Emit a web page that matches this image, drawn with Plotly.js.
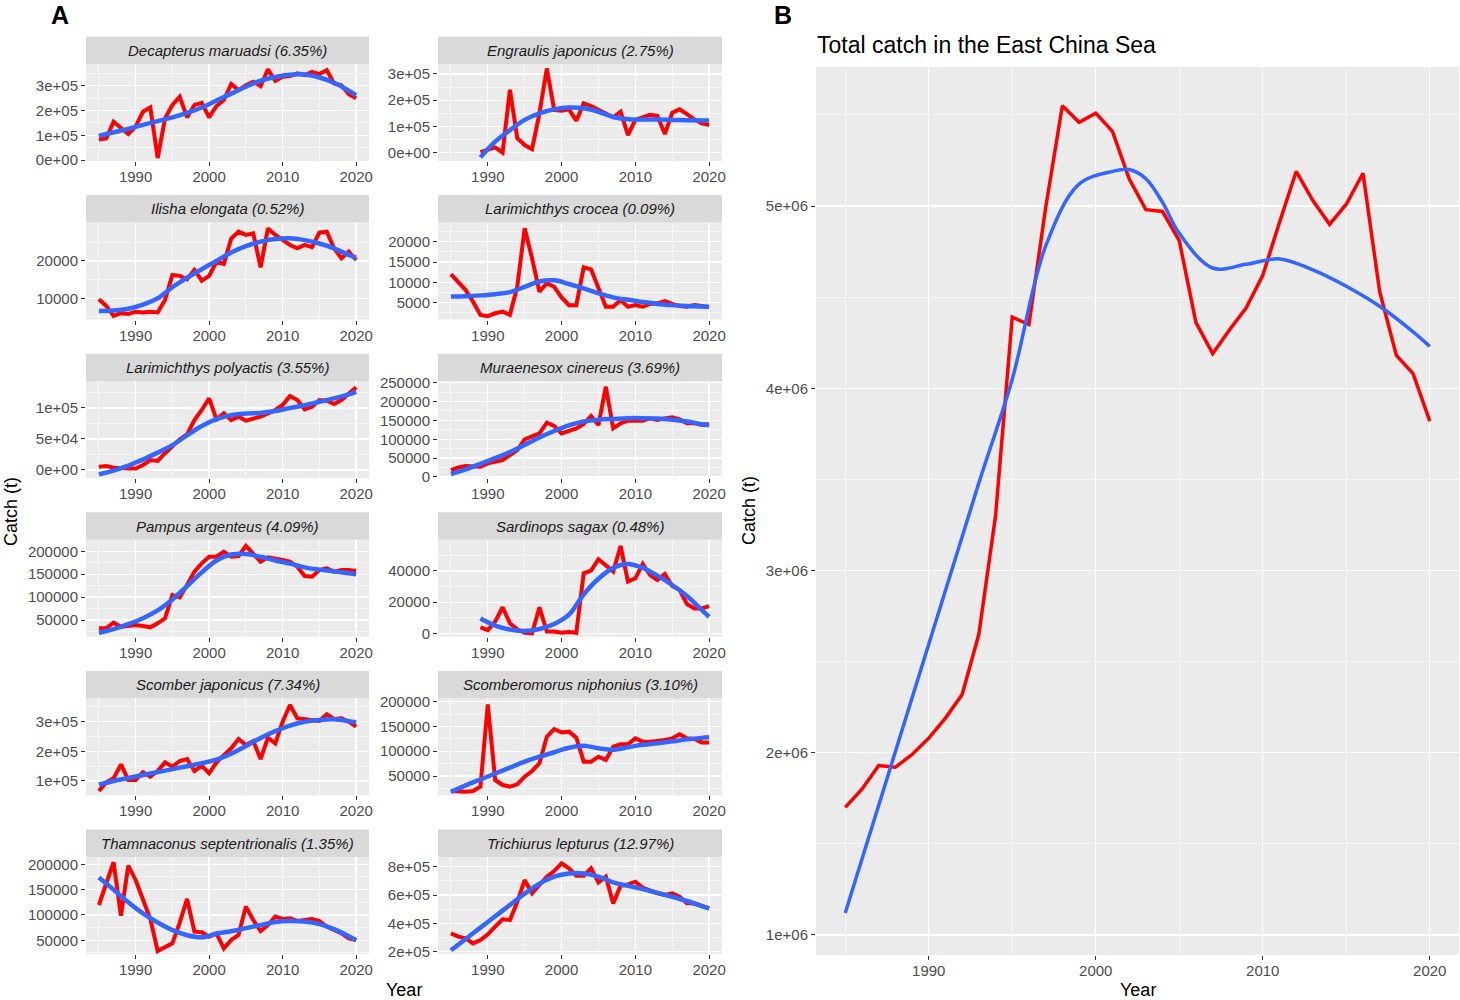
<!DOCTYPE html>
<html><head><meta charset="utf-8">
<script src="https://cdn.plot.ly/plotly-3.0.1.min.js"></script>
<style>body{margin:0;background:#fff}#chart{width:1460px;height:1000px}</style>
</head><body><div id="chart"></div>
<script>
// ---------------- DATA ----------------
const years = [1985,1986,1987,1988,1989,1990,1991,1992,1993,1994,1995,1996,1997,1998,1999,2000,2001,2002,2003,2004,2005,2006,2007,2008,2009,2010,2011,2012,2013,2014,2015,2016,2017,2018,2019,2020];
const years89 = [1989,1990,1991,1992,1993,1994,1995,1996,1997,1998,1999,2000,2001,2002,2003,2004,2005,2006,2007,2008,2009,2010,2011,2012,2013,2014,2015,2016,2017,2018,2019,2020];
const fitYears = [1985,1987,1989,1991,1993,1995,1997,1999,2001,2003,2005,2007,2009,2011,2013,2015,2017,2019,2020];
const fitYears89 = [1989,1991,1993,1995,1997,1999,2001,2003,2005,2007,2009,2011,2013,2015,2017,2019,2020];
const totalFitYears = [1985,1987,1989,1991,1993,1995,1997,1999,2001,2002,2003,2004,2005,2007,2009,2011,2013,2015,2017,2019,2020];

const species = ["Decapterus maruadsi (6.35%)","Engraulis japonicus (2.75%)","Ilisha elongata (0.52%)","Larimichthys crocea (0.09%)","Larimichthys polyactis (3.55%)","Muraenesox cinereus (3.69%)","Pampus argenteus (4.09%)","Sardinops sagax (0.48%)","Scomber japonicus (7.34%)","Scomberomorus niphonius (3.10%)","Thamnaconus septentrionalis (1.35%)","Trichiurus lepturus (12.97%)"];

const decapterusCatch = [83000,87000,155000,128000,105000,135000,195000,212000,8000,168000,222000,255000,172000,222000,231000,172000,218000,242000,307000,282000,302000,316000,298000,366000,320000,336000,339000,350000,343000,356000,347000,363000,309000,302000,266000,249000];
const decapterusFit = [97000,112000,126000,142000,157000,172000,190000,212000,240000,268000,296000,320000,335000,344000,345000,333000,312000,280000,262000];

const engraulisCatch = [2000,10000,20000,0,240000,55000,29000,13000,150000,321000,163000,160000,165000,122000,188000,178000,163000,152000,135000,156000,67000,125000,135000,144000,140000,71000,152000,165000,147000,127000,112000,105000];
const engraulisFit = [-18000,42000,86000,125000,150000,165000,172000,169000,156000,136000,127000,126000,126000,125000,124000,123000,123000];

const ilishaCatch = [9700,7950,5270,6000,5800,6400,6200,6400,6200,9550,16250,16000,15100,17600,14700,16000,19800,19200,26000,27850,27000,27400,18300,28750,27000,25600,24300,23400,24300,23700,27600,27850,23400,20700,22500,20250];
const ilishaFit = [6600,6700,7200,8300,10000,13000,15500,17800,20000,22300,24000,25200,25900,26100,25600,24700,23400,21600,20900];

const croceaCatch = [12000,10200,8100,5250,2000,1700,2400,2800,2000,9000,23300,15900,7700,9800,8900,6300,4400,4400,13700,13200,8500,4000,4000,5650,4000,4400,4000,4700,4850,5400,4700,4200,4000,4400,4200,3850];
const croceaFit = [6500,6600,6800,7100,7600,8900,10200,10500,9600,8500,7300,6300,5700,5200,4700,4400,4200,4050,4000];

const polyactisCatch = [5400,6500,3800,2700,2200,2200,8000,16000,14500,27000,37600,49500,57500,80600,96800,115600,81700,91400,80600,86000,79600,83300,86000,91400,96800,104800,119300,112900,97800,102100,112900,111800,106400,112900,123600,133300];
const polyactisFit = [-7000,-1000,7000,17000,28000,40000,56000,71000,82000,88500,91000,92000,95000,100000,104500,110000,115500,122000,126000];

const muraenesoxCatch = [18500,25600,29100,29100,27400,36200,40600,45000,58300,71500,99800,108600,115700,144000,135100,115700,122700,128900,140400,161600,137700,239300,128900,142200,149200,149200,149200,155400,151000,155400,158100,152800,142200,142200,137700,140400];
const muraenesoxFit = [8000,20000,35000,50000,66000,85000,105000,122000,137000,147000,152000,154000,156000,156000,155000,152000,147000,140000,137000];

const pampusCatch = [31800,31800,44200,35400,36900,39100,36900,34000,42700,53600,104600,99500,126400,155600,173800,188300,188300,199200,188300,189800,211600,195600,177400,186900,184700,181000,177400,166500,146100,144600,159200,162800,155600,159200,159200,157000];
const pampusFit = [22000,30000,41000,54000,71000,95000,124000,154000,180000,193000,194000,188000,180000,173000,165000,160000,156000,152000,150000];

const sardinopsCatch = [3850,2100,7500,16700,6400,2600,400,0,16700,1100,1100,400,900,400,38500,40200,47500,43900,39600,56000,33200,35300,44500,37400,34200,38100,30400,27800,18800,16000,16000,17500];
const sardinopsFit = [9500,5000,2500,1500,2800,6000,12000,25000,35000,42000,44500,42000,37000,31000,24000,15000,10500];

const scomberCatch = [66300,95500,109000,156200,103400,103400,129200,114600,133700,162900,148300,167400,174200,133700,151700,125900,162900,187700,210200,241600,221400,234900,174200,246100,227000,300000,356300,311300,309100,305700,302300,324800,309100,311300,300000,283200];
const scomberFit = [88000,100000,110000,120000,130000,140000,150000,160000,172000,192000,218000,245000,268000,287000,300000,306000,308000,302000,298000];

const scomberomorusCatch = [19700,18400,18400,19700,28500,194600,41900,31800,28500,33200,48700,60100,75600,129400,144800,138100,139500,127300,78900,78900,89000,82300,109200,113900,113900,126000,119300,119300,120600,122600,126000,134100,126000,124700,117900,117900];
const scomberomorusFit = [18000,31000,43000,55000,67000,79000,89000,98000,107000,111000,106000,103000,108000,113000,116000,120000,124000,127000,128000];

const thamnaconusCatch = [119700,162500,204000,98700,197400,169100,131600,92100,28900,37500,44100,85000,131600,67100,65800,57200,63800,34200,50700,60500,116500,90100,68400,80300,96700,92100,93400,88200,90100,92100,88200,77000,70400,63800,54000,50700];
const thamnaconusFit = [174000,150000,125000,103000,85000,70000,60000,56000,63000,68000,74000,80000,86000,88000,87000,82000,72000,58000,50000];

const trichiurusCatch = [329400,305900,294100,258800,282400,322400,376500,428200,423500,552900,705900,611800,670600,729400,769400,823500,788200,736500,736500,788200,689400,729400,541200,665900,675300,694100,651800,628200,611800,600000,611800,588200,541200,541200,524700,505900];
const trichiurusFit = [210000,290000,370000,450000,530000,610000,680000,730000,752000,752000,730000,690000,665000,642000,615000,588000,558000,522000,505000];

const totalCatch = [1700000,1800000,1930000,1920000,1990000,2080000,2190000,2320000,2650000,3300000,4390000,4350000,4990000,5550000,5460000,5510000,5410000,5150000,4980000,4970000,4810000,4360000,4190000,4320000,4440000,4620000,4910000,5190000,5030000,4900000,5010000,5180000,4530000,4180000,4080000,3820000];
const totalFit = [1120000,1710000,2300000,2890000,3480000,4050000,4780000,5120000,5190000,5200000,5150000,5020000,4850000,4660000,4680000,4710000,4650000,4560000,4450000,4310000,4230000];

const xTicks = [1990,2000,2010,2020];
const xTickLabels = ["1990","2000","2010","2020"];
const sciTicks1 = [0,100000,200000,300000]; const sciLabels1 = ["0e+00","1e+05","2e+05","3e+05"];
const ilishaTicks = [10000,20000]; const ilishaLabels = ["10000","20000"];
const croceaTicks = [5000,10000,15000,20000]; const croceaLabels = ["5000","10000","15000","20000"];
const polyTicks = [0,50000,100000]; const polyLabels = ["0e+00","5e+04","1e+05"];
const muraTicks = [0,50000,100000,150000,200000,250000]; const muraLabels = ["0","50000","100000","150000","200000","250000"];
const t50Ticks = [50000,100000,150000,200000]; const t50Labels = ["50000","100000","150000","200000"];
const sardTicks = [0,20000,40000]; const sardLabels = ["0","20000","40000"];
const scomTicks = [100000,200000,300000]; const scomLabels = ["1e+05","2e+05","3e+05"];
const trichTicks = [200000,400000,600000,800000]; const trichLabels = ["2e+05","4e+05","6e+05","8e+05"];
const totalTicks = [1000000,2000000,3000000,4000000,5000000]; const totalLabels = ["1e+06","2e+06","3e+06","4e+06","5e+06"];

// ---------------- PANELS ----------------
const panels = [
  {x:years, y:decapterusCatch, fx:fitYears, fy:decapterusFit, tv:sciTicks1, tt:sciLabels1, r:[-3860,387600]},
  {x:years89, y:engraulisCatch, fx:fitYears89, fy:engraulisFit, tv:sciTicks1, tt:sciLabels1, r:[-31750,338000]},
  {x:years, y:ilishaCatch, fx:fitYears, fy:ilishaFit, tv:ilishaTicks, tt:ilishaLabels, r:[4270,30300]},
  {x:years, y:croceaCatch, fx:fitYears, fy:croceaFit, tv:croceaTicks, tt:croceaLabels, r:[840,24700]},
  {x:years, y:polyactisCatch, fx:fitYears, fy:polyactisFit, tv:polyTicks, tt:polyLabels, r:[-13250,143200]},
  {x:years, y:muraenesoxCatch, fx:fitYears, fy:muraenesoxFit, tv:muraTicks, tt:muraLabels, r:[-3200,254000]},
  {x:years, y:pampusCatch, fx:fitYears, fy:pampusFit, tv:t50Ticks, tt:t50Labels, r:[13330,225100]},
  {x:years89, y:sardinopsCatch, fx:fitYears89, fy:sardinopsFit, tv:sardTicks, tt:sardLabels, r:[-2230,60000]},
  {x:years, y:scomberCatch, fx:fitYears, fy:scomberFit, tv:scomTicks, tt:scomLabels, r:[51400,378600]},
  {x:years, y:scomberomorusCatch, fx:fitYears, fy:scomberomorusFit, tv:t50Ticks, tt:t50Labels, r:[10830,206700]},
  {x:years, y:thamnaconusCatch, fx:fitYears, fy:thamnaconusFit, tv:t50Ticks, tt:t50Labels, r:[23000,214400]},
  {x:years, y:trichiurusCatch, fx:fitYears, fy:trichiurusFit, tv:trichTicks, tt:trichLabels, r:[183700,868500]}
];

const W = 1460, H = 1000;
const px = v => v / W, py = v => 1 - v / H;
const FONT = "Liberation Sans, Arial, Helvetica, sans-serif";
const RED = "#FF0000", BLUE = "#3366FF";
const colX = [[86,369],[438,722]];

const data = [];
const layout = {
  width: W, height: H, margin: {l:0, r:0, t:0, b:0},
  paper_bgcolor: "#ffffff", plot_bgcolor: "#EBEBEB",
  showlegend: false, font: {family: FONT, color: "#4D4D4D"},
  shapes: [], annotations: []
};

function axisX(domain, anchor) {
  return {
    domain: domain, anchor: anchor, range: [1983.25, 2021.75],
    tickmode: "array", tickvals: xTicks, ticktext: xTickLabels,
    ticks: "outside", ticklen: 4, tickwidth: 1, tickcolor: "#333333",
    ticklabelstandoff: -2,
    tickfont: {size: 15, color: "#4D4D4D", family: FONT},
    showgrid: true, gridcolor: "#FFFFFF", gridwidth: 1.3,
    minor: {tickmode: "linear", tick0: 1985, dtick: 10, showgrid: true, gridcolor: "#FFFFFF", gridwidth: 0.6, ticks: ""},
    zeroline: false, showline: false, fixedrange: true
  };
}
function axisY(domain, anchor, tv, tt, r) {
  const d = tv[1] - tv[0];
  return {
    domain: domain, anchor: anchor, range: r,
    tickmode: "array", tickvals: tv, ticktext: tt,
    ticks: "outside", ticklen: 4, tickwidth: 1, tickcolor: "#333333",
    tickfont: {size: 15, color: "#4D4D4D", family: FONT},
    showgrid: true, gridcolor: "#FFFFFF", gridwidth: 1.3,
    minor: {tickmode: "linear", tick0: tv[0] + d/2, dtick: d, showgrid: true, gridcolor: "#FFFFFF", gridwidth: 0.6, ticks: ""},
    zeroline: false, showline: false, fixedrange: true
  };
}

panels.forEach((p, k) => {
  const n = k + 1;
  const xs = n === 1 ? "" : String(n);
  const row = Math.floor(k / 2), col = k % 2;
  const top = 64 + 158.6 * row, bot = top + 97;
  const [l, r] = colX[col];
  layout["xaxis" + xs] = axisX([px(l), px(r)], "y" + xs);
  layout["yaxis" + xs] = axisY([py(bot), py(top)], "x" + xs, p.tv, p.tt, p.r);
  data.push({x: p.x, y: p.y, xaxis: "x" + xs, yaxis: "y" + xs, type: "scatter", mode: "lines",
             line: {color: RED, width: 4}, hoverinfo: "skip"});
  data.push({x: p.fx, y: p.fy, xaxis: "x" + xs, yaxis: "y" + xs, type: "scatter", mode: "lines",
             line: {color: BLUE, width: 4.5, shape: "spline", smoothing: 1}, hoverinfo: "skip"});
  layout.shapes.push({type: "rect", xref: "paper", yref: "paper", x0: px(l), x1: px(r),
                      y0: py(top), y1: py(top - 27.5), fillcolor: "#D9D9D9", line: {width: 0}, layer: "below"});
  layout.annotations.push({xref: "paper", yref: "paper", x: px((l + r) / 2), y: py(top - 13.75),
                           text: "<i>" + species[k] + "</i>", showarrow: false, xanchor: "center", yanchor: "middle",
                           font: {size: 15, color: "#1A1A1A", family: FONT}});
});

// Panel B
layout.xaxis13 = axisX([px(816), px(1459)], "y13");
layout.yaxis13 = axisY([py(955), py(67)], "x13", totalTicks, totalLabels, [890000, 5763000]);
data.push({x: years, y: totalCatch, xaxis: "x13", yaxis: "y13", type: "scatter", mode: "lines",
           line: {color: RED, width: 3.5}, hoverinfo: "skip"});
data.push({x: totalFitYears, y: totalFit, xaxis: "x13", yaxis: "y13", type: "scatter", mode: "lines",
           line: {color: BLUE, width: 3.5, shape: "spline", smoothing: 1}, hoverinfo: "skip"});

const ann = (x, y, text, size, opts) => Object.assign({xref: "paper", yref: "paper", x: px(x), y: py(y), text: text,
  showarrow: false, xanchor: "center", yanchor: "middle", font: {size: size, color: "#000000", family: FONT}}, opts || {});
layout.annotations.push(ann(60, 15, "<b>A</b>", 25));
layout.annotations.push(ann(783, 15, "<b>B</b>", 25));
layout.annotations.push(ann(815, 45, "Total catch in the East China Sea", 23, {xanchor: "left"}));
layout.annotations.push(ann(11, 512, "Catch (t)", 18, {textangle: -90}));
layout.annotations.push(ann(404, 990, "Year", 18));
layout.annotations.push(ann(749, 511, "Catch (t)", 18, {textangle: -90}));
layout.annotations.push(ann(1138, 990, "Year", 18));

Plotly.newPlot("chart", data, layout, {staticPlot: true, displayModeBar: false});
</script>
</body></html>
